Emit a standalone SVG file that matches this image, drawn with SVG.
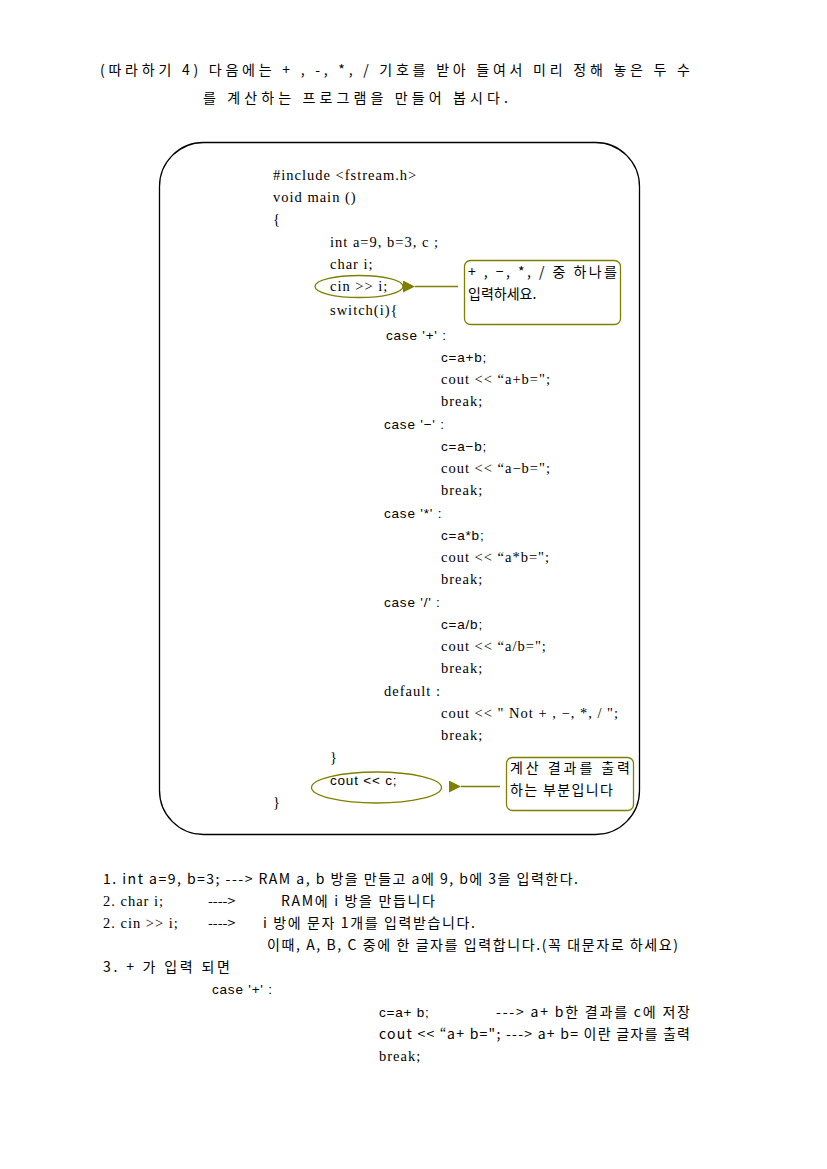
<svg xmlns="http://www.w3.org/2000/svg" width="827" height="1169" viewBox="0 0 827 1169">
<style>
.k{font-family:"Noto Sans CJK KR","Liberation Sans",sans-serif;font-size:14px;fill:#000}
.s{font-family:"Liberation Serif","Noto Sans CJK KR",serif;font-size:14.5px;letter-spacing:1px;fill:#000}
.a{font-family:"Liberation Sans","Noto Sans CJK KR",sans-serif;font-size:13.5px;letter-spacing:0.8px;fill:#000}
.ol{fill:none;stroke:#808000;stroke-width:1.3}
</style>
<defs>
<marker id="ah" viewBox="0 0 12 12" refX="0" refY="6" markerWidth="12" markerHeight="12" markerUnits="userSpaceOnUse" orient="auto-start-reverse">
<path d="M0,6 L12,0 L12,12 Z" fill="#808000"/>
</marker>
</defs>
<rect width="827" height="1169" fill="#fff"/>
<g id="title">
<text class="k" x="100" y="75" textLength="590" lengthAdjust="spacing">(따라하기 4) 다음에는 + , -, *, / 기호를 받아 들여서 미리 정해 놓은 두 수</text>
<text class="k" x="203" y="103" textLength="305" lengthAdjust="spacing">를 계산하는 프로그램을 만들어 봅시다.</text>
</g>
<g id="code-box">
<rect x="159.5" y="142.5" width="480" height="692" rx="44" ry="44" fill="none" stroke="#000" stroke-width="1.3"/>
<text class="s" x="273" y="180">#include &lt;fstream.h&gt;</text>
<text class="s" x="273" y="202">void main ()</text>
<text class="s" x="273" y="224">{</text>
<text class="s" x="330" y="247">int a=9, b=3, c ;</text>
<text class="s" x="330" y="269">char i;</text>
<text class="s" x="330" y="291">cin &gt;&gt; i;</text>
<text class="s" x="330" y="315">switch(i){</text>
<text class="a" x="386" y="340">case '+' :</text>
<text class="a" x="441" y="362">c=a+b;</text>
<text class="s" x="441" y="384">cout &lt;&lt; “a+b=";</text>
<text class="s" x="441" y="406">break;</text>
<text class="a" x="384" y="429">case '−' :</text>
<text class="a" x="441" y="451">c=a−b;</text>
<text class="s" x="441" y="473">cout &lt;&lt; “a−b=";</text>
<text class="s" x="441" y="495">break;</text>
<text class="a" x="384" y="518">case '*' :</text>
<text class="a" x="441" y="540">c=a*b;</text>
<text class="s" x="441" y="562">cout &lt;&lt; “a*b=";</text>
<text class="s" x="441" y="584">break;</text>
<text class="a" x="384" y="607">case '/' :</text>
<text class="a" x="441" y="629">c=a/b;</text>
<text class="s" x="441" y="651">cout &lt;&lt; “a/b=";</text>
<text class="s" x="441" y="673">break;</text>
<text class="s" x="384" y="696">default :</text>
<text class="s" x="441" y="718">cout &lt;&lt; " Not + , −, *, / ";</text>
<text class="s" x="441" y="740">break;</text>
<text class="s" x="330" y="762">}</text>
<text class="a" x="330" y="785">cout &lt;&lt; c;</text>
<text class="s" x="273" y="807">}</text>
</g>
<g id="callout-input">
<rect class="ol" x="464.5" y="260.5" width="156" height="64" rx="6" ry="6"/>
<text class="k" x="468" y="277" textLength="149" lengthAdjust="spacing">+ , −, *, / 중 하나를</text>
<text class="k" x="468" y="299">입력하세요.</text>
</g>
<g id="callout-output">
<rect class="ol" x="506.5" y="757.5" width="127" height="53" rx="6" ry="6"/>
<text class="k" x="510" y="773" textLength="120" lengthAdjust="spacing">계산 결과를 출력</text>
<text class="k" x="510" y="795" textLength="103" lengthAdjust="spacing">하는 부분입니다</text>
</g>
<g id="connectors">
<ellipse class="ol" cx="359" cy="286.5" rx="44" ry="11"/>
<ellipse class="ol" cx="376.5" cy="787.5" rx="65" ry="15.5"/>
<line x1="458" y1="286.5" x2="415" y2="286.5" stroke="#808000" stroke-width="1.3" marker-end="url(#ah)"/>
<line x1="500" y1="786.5" x2="461" y2="786.5" stroke="#808000" stroke-width="1.3" marker-end="url(#ah)"/>
</g>
<g id="notes">
<text class="k" x="103" y="884" textLength="475" lengthAdjust="spacing">1. int a=9, b=3; ---&gt; RAM a, b 방을 만들고 a에 9, b에 3을 입력한다.</text>
<text class="s" x="103" y="906">2. char i;</text>
<text class="k" x="208" y="906">----&gt;</text>
<text class="k" x="281" y="906" textLength="154" lengthAdjust="spacing">RAM에 i 방을 만듭니다</text>
<text class="s" x="103" y="928">2. cin &gt;&gt; i;</text>
<text class="k" x="208" y="928">----&gt;</text>
<text class="k" x="263" y="928" textLength="212" lengthAdjust="spacing">i 방에 문자 1개를 입력받습니다.</text>
<text class="k" x="267" y="950" textLength="411" lengthAdjust="spacing">이때, A, B, C 중에 한 글자를 입력합니다.(꼭 대문자로 하세요)</text>
<text class="k" x="103" y="972" textLength="127" lengthAdjust="spacing">3. +  가 입력 되면</text>
<text class="a" x="212" y="994">case '+' :</text>
<text class="a" x="379" y="1017">c=a+ b;</text>
<text class="k" x="496" y="1017" textLength="194" lengthAdjust="spacing">---&gt; a+ b한 결과를 c에 저장</text>
<text class="k" x="379" y="1039" textLength="311" lengthAdjust="spacing">cout &lt;&lt; “a+ b="; ---&gt; a+ b= 이란 글자를 출력</text>
<text class="s" x="379" y="1061">break;</text>
</g>
</svg>
